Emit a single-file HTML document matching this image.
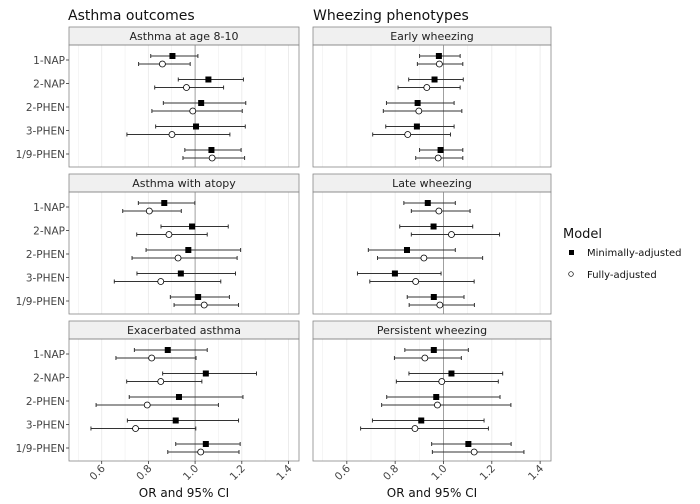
<!DOCTYPE html>
<html><head><meta charset="utf-8"><style>
body{margin:0;background:#fff}
svg{display:block;font-family:"DejaVu Sans","Liberation Sans",sans-serif}
</style></head><body>
<svg id="chart" width="700" height="504" viewBox="0 0 700 504">
<text x="68" y="20" font-size="14" fill="#111">Asthma outcomes</text>
<text x="313" y="20" font-size="14" fill="#111">Wheezing phenotypes</text>
<text x="563" y="238" font-size="13" fill="#111">Model</text>
<rect x="569" y="250" width="5" height="5" fill="#000"/>
<text x="587" y="256" font-size="10" fill="#111">Minimally-adjusted</text>
<circle cx="571" cy="274" r="2.3" fill="#fff" stroke="#000" stroke-width="0.7"/>
<text x="587" y="278" font-size="10" fill="#111">Fully-adjusted</text>
<g id="plots"></g>
</svg>
<script>
const categories = ["1-NAP","2-NAP","2-PHEN","3-PHEN","1/9-PHEN"];
const panelTitles = ["Asthma at age 8-10","Asthma with atopy","Exacerbated asthma","Early wheezing","Late wheezing","Persistent wheezing"];
const xTicks = [0.6,0.8,1.0,1.2,1.4];
const xTickLabels = ["0.6","0.8","1.0","1.2","1.4"];
// each: [estimate, lower, upper] per category
const minimalEst = [
 [[0.903,0.81,1.012],[1.057,0.928,1.207],[1.026,0.864,1.217],[1.004,0.831,1.215],[1.07,0.956,1.197]],
 [[0.868,0.757,0.999],[0.987,0.854,1.142],[0.971,0.79,1.195],[0.939,0.751,1.173],[1.013,0.894,1.147]],
 [[0.883,0.74,1.052],[1.046,0.861,1.263],[0.931,0.718,1.205],[0.917,0.71,1.186],[1.046,0.917,1.193]],
 [[0.981,0.901,1.069],[0.963,0.856,1.082],[0.893,0.764,1.044],[0.89,0.761,1.044],[0.988,0.901,1.08]],
 [[0.935,0.836,1.049],[0.959,0.819,1.121],[0.849,0.689,1.049],[0.799,0.644,0.99],[0.96,0.85,1.085]],
 [[0.96,0.84,1.103],[1.033,0.857,1.245],[0.97,0.765,1.234],[0.908,0.706,1.168],[1.103,0.951,1.28]]
];
const fullEst = [
 [[0.86,0.758,0.979],[0.963,0.827,1.122],[0.99,0.815,1.202],[0.901,0.708,1.149],[1.073,0.948,1.212]],
 [[0.804,0.69,0.941],[0.888,0.75,1.052],[0.927,0.73,1.18],[0.853,0.654,1.11],[1.039,0.91,1.186]],
 [[0.814,0.661,1.004],[0.853,0.707,1.029],[0.795,0.576,1.1],[0.745,0.554,1.003],[1.024,0.883,1.188]],
 [[0.983,0.892,1.08],[0.931,0.812,1.069],[0.898,0.751,1.076],[0.852,0.707,1.029],[0.978,0.885,1.08]],
 [[0.981,0.867,1.11],[1.033,0.867,1.232],[0.919,0.727,1.162],[0.885,0.695,1.127],[0.985,0.858,1.128]],
 [[0.923,0.797,1.074],[0.993,0.805,1.227],[0.975,0.744,1.279],[0.882,0.657,1.186],[1.127,0.954,1.333]]
];
const NS="http://www.w3.org/2000/svg";
const g=document.getElementById('plots');
function el(t,a,p){const e=document.createElementNS(NS,t);for(const k in a)e.setAttribute(k,a[k]);(p||g).appendChild(e);return e;}
const cols=[{x0:69,x1:299},{x0:313,x1:551}];
const dMin=0.46,dMax=1.445;
const tops=[27,174,321];
for(let p=0;p<6;p++){
  const c=cols[Math.floor(p/3)], r=p%3;
  const sx=v=>c.x0+(v-dMin)/(dMax-dMin)*(c.x1-c.x0);
  const st=tops[r], pt=st+18, pb=pt+122;
  const rowY=i=>pt+15+i*23.5;
  const grp=el('g',{});
  
  
  const bg=el('rect',{x:c.x0,y:pt,width:c.x1-c.x0,height:pb-pt,fill:'#fff'},grp);
  
  
  for(let v=0.5;v<1.45;v+=0.1){
    const vv=Math.round(v*10)/10, x=sx(vv);
    const major=Math.abs(vv*10%2)<0.01;
    const gl=el('line',{x1:x,x2:x,y1:pt,y2:pb,stroke:vv===1?'#888':'#ebebeb','stroke-width':vv===1?0.8:(major?0.9:0.5)},grp);
    
    
  }
  const strip=el('rect',{x:c.x0,y:st,width:c.x1-c.x0,height:18,fill:'#f0f0f0',stroke:'#888','stroke-width':0.8},grp);
  
  
  const stt=el('text',{x:(c.x0+c.x1)/2,y:st+13,'font-size':11,'text-anchor':'middle',fill:'#222'},grp);
  stt.textContent=panelTitles[p];
  
  
  const bd=el('rect',{x:c.x0,y:pt,width:c.x1-c.x0,height:pb-pt,fill:'none',stroke:'#888','stroke-width':0.8},grp);
  
  
  categories.forEach((cat,i)=>{
    const y=rowY(i);
    if(p<3){
      const tk=el('line',{x1:c.x0-3,x2:c.x0,y1:y,y2:y,stroke:'#333','stroke-width':0.8},grp);
      
      
      const lb=el('text',{x:c.x0-4,y:y+4,'font-size':10.5,'text-anchor':'end',fill:'#444'},grp);
      lb.textContent=cat;
      
      
    }
    [[minimalEst,-4,'min'],[fullEst,4,'full']].forEach(([arr,off,nm])=>{
      const [e,lo,hi]=arr[p][i], yy=y+off;
      const ln=el('line',{x1:sx(lo),x2:sx(hi),y1:yy,y2:yy,stroke:'#333','stroke-width':1},grp);
      
      
      [lo,hi].forEach(v=>{const cap=el('line',{x1:sx(v),x2:sx(v),y1:yy-2,y2:yy+2,stroke:'#333','stroke-width':1},grp);
        
        });
      let m;
      if(nm==='min') m=el('rect',{x:sx(e)-3,y:yy-3,width:6,height:6,fill:'#000'},grp);
      else m=el('circle',{cx:sx(e),cy:yy,r:3,fill:'#fff',stroke:'#000','stroke-width':0.8},grp);
      
      
    });
  });
  if(r===2){
    xTicks.forEach((v,k)=>{
      const x=sx(v);
      const tk=el('line',{x1:x,x2:x,y1:pb,y2:pb+3,stroke:'#333','stroke-width':0.8},grp);
      
      
      const t=el('text',{x:x+4,y:pb+8,'font-size':10.5,'text-anchor':'end',fill:'#444',transform:`rotate(-45 ${x+4} ${pb+8})`},grp);
      t.textContent=xTickLabels[k];
      
      
    });
    const at=el('text',{x:(c.x0+c.x1)/2,y:497,'font-size':12,'text-anchor':'middle',fill:'#111'},grp);
    at.textContent='OR and 95% CI';
    
    
  }
}
</script>
</body></html>
